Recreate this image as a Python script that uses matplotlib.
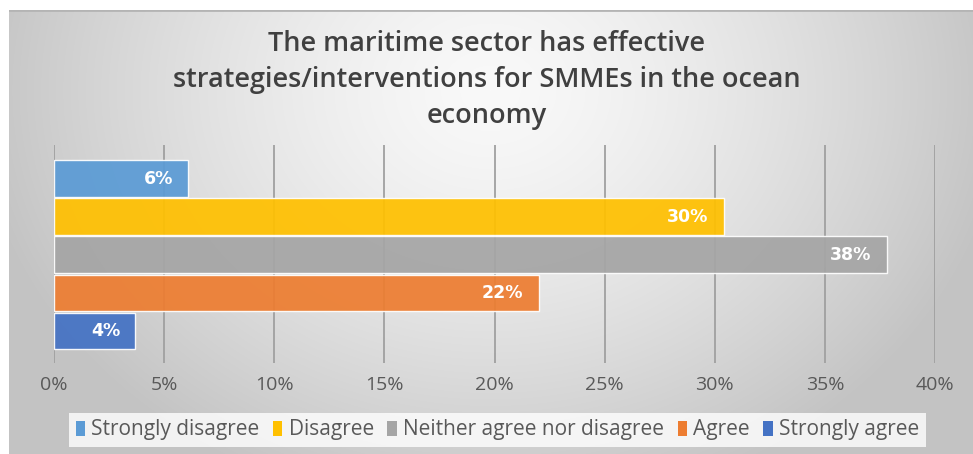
import numpy as np
import matplotlib
matplotlib.use("Agg")
import matplotlib.pyplot as plt
from matplotlib.patches import Patch
from matplotlib.ticker import FuncFormatter

# Survey responses (share of respondents, %)
categories = ["Strongly disagree", "Disagree", "Neither agree nor disagree",
              "Agree", "Strongly agree"]
values = [6.1, 30.4, 37.8, 22.0, 3.7]
colors = ["#5B9BD5", "#FFC000", "#A5A5A5", "#ED7D31", "#4472C4"]
xticks = [0, 5, 10, 15, 20, 25, 30, 35, 40]
title = ("The maritime sector has effective\n"
         "strategies/interventions for SMMEs in the ocean\n"
         "economy")

W, H = 973, 454
fig = plt.figure(figsize=(W / 100, H / 100), dpi=100)
fig.patch.set_facecolor("white")

# Chart-area background with a soft radial gradient
bg = fig.add_axes([9 / W, 0, 1 - 9 / W, 1 - 10 / H])
bg.set_axis_off()
yy, xx = np.mgrid[10:H, 9:W]
r = np.sqrt(((xx - 490) / 520.0) ** 2 + ((yy - 90) / 430.0) ** 2)
shade = np.clip(249 - 54 * r ** 1.4, 195, 250) / 255.0
bg.imshow(np.dstack([shade, shade, shade]), aspect="auto",
          extent=[0, 1, 0, 1], interpolation="bilinear")
bg.set_xlim(0, 1)
bg.set_ylim(0, 1)
bg.axhline(1, color="#B4B4B4", lw=2.0)

# Bar axes
left, right = 54 / W, 935 / W
top, bottom = 145 / H, 363 / H
ax = fig.add_axes([left, 1 - bottom, right - left, bottom - top])
ax.patch.set_alpha(0)

ypos = np.arange(len(values))
ax.set_xlim(0, 40)
ax.set_ylim(4.84, -0.88)
for x in xticks:
    ax.axvline(x, color="#A0A0A0", lw=1.3, zorder=1)

bars = ax.barh(ypos, values, height=0.96, color=colors, alpha=0.93,
               edgecolor=(1, 1, 1, 0.45), linewidth=1.0, zorder=2)
for b, v in zip(bars, values):
    ax.annotate(f"{v:.0f}%", xy=(b.get_width(), b.get_y() + b.get_height() / 2),
                xytext=(-15, 0), textcoords="offset pixels",
                ha="right", va="center", color="white", fontsize=12.5,
                fontweight="bold", family="DejaVu Sans", zorder=3)

ax.set_xticks(xticks)
ax.xaxis.set_major_formatter(FuncFormatter(lambda v, p: f"{v:.0f}%"))
ax.set_yticks([])
for s in ax.spines.values():
    s.set_visible(False)
ax.tick_params(axis="x", length=0, pad=9, labelsize=14,
               labelcolor="#595959")
for lbl in ax.get_xticklabels():
    lbl.set_family("Open Sans")

# Title
fig.text(487 / W, 1 - 80 / H, title, ha="center",
         va="center", fontsize=19.5, fontweight="semibold", color="#404040",
         family="Open Sans", linespacing=1.36)

# Legend
handles = [Patch(facecolor=c, edgecolor="none") for c in colors]
leg = fig.legend(handles, categories, loc="center",
                 bbox_to_anchor=(497.5 / W, 1 - 430 / H), ncol=5,
                 frameon=True, fancybox=False, handlelength=0.45,
                 handleheight=0.7, handletextpad=0.3, columnspacing=0.65,
                 borderpad=0.3, prop={"family": "Open Sans", "size": 15})
leg.get_frame().set_facecolor((1, 1, 1, 0.3))
leg.get_frame().set_edgecolor("none")
for t in leg.get_texts():
    t.set_color("#595959")

fig.savefig("out.png", dpi=100)
